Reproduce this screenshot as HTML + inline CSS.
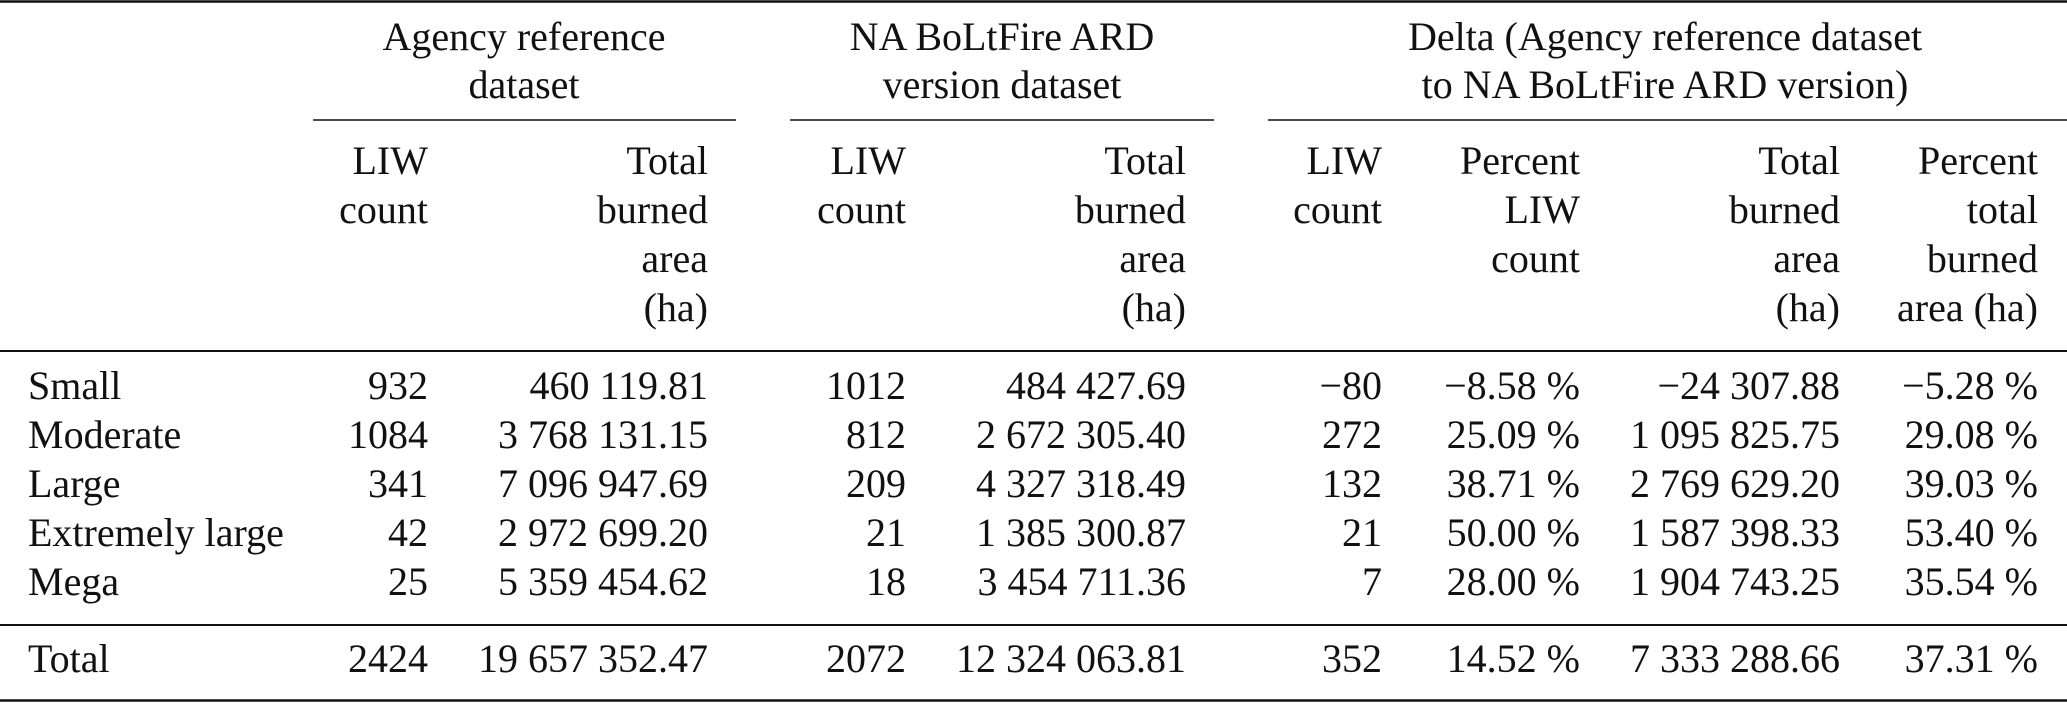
<!DOCTYPE html>
<html><head><meta charset="utf-8"><style>
html,body{margin:0;padding:0;background:#fff;}
svg{display:block;}
text{font-family:"Liberation Serif",serif;font-size:40px;fill:#111;}
</style></head><body>
<svg width="2067" height="703" xmlns="http://www.w3.org/2000/svg">
<g stroke="#111">
<line x1="0" y1="1.5" x2="2067" y2="1.5" stroke-width="2.5"/>
<line x1="313" y1="120" x2="736" y2="120" stroke-width="1.6"/>
<line x1="790" y1="120" x2="1214" y2="120" stroke-width="1.6"/>
<line x1="1268" y1="120" x2="2067" y2="120" stroke-width="1.6"/>
<line x1="0" y1="351" x2="2067" y2="351" stroke-width="2"/>
<line x1="0" y1="625" x2="2067" y2="625" stroke-width="2"/>
<line x1="0" y1="700.5" x2="2067" y2="700.5" stroke-width="2.5"/>
</g>
<g text-anchor="middle">
<text x="524" y="50">Agency reference</text>
<text x="524" y="98">dataset</text>
<text x="1002" y="50">NA BoLtFire ARD</text>
<text x="1002" y="98">version dataset</text>
<text x="1665" y="50">Delta (Agency reference dataset</text>
<text x="1665" y="98">to NA BoLtFire ARD version)</text>
</g>
<g text-anchor="end">
<text x="428" y="174">LIW</text><text x="428" y="223">count</text>
<text x="708" y="174">Total</text><text x="708" y="223">burned</text><text x="708" y="272">area</text><text x="708" y="321">(ha)</text>
<text x="906" y="174">LIW</text><text x="906" y="223">count</text>
<text x="1186" y="174">Total</text><text x="1186" y="223">burned</text><text x="1186" y="272">area</text><text x="1186" y="321">(ha)</text>
<text x="1382" y="174">LIW</text><text x="1382" y="223">count</text>
<text x="1580" y="174">Percent</text><text x="1580" y="223">LIW</text><text x="1580" y="272">count</text>
<text x="1840" y="174">Total</text><text x="1840" y="223">burned</text><text x="1840" y="272">area</text><text x="1840" y="321">(ha)</text>
<text x="2038" y="174">Percent</text><text x="2038" y="223">total</text><text x="2038" y="272">burned</text><text x="2038" y="321">area (ha)</text>
</g>
<g>
<text x="28" y="399">Small</text>
<text x="28" y="448">Moderate</text>
<text x="28" y="497">Large</text>
<text x="28" y="546">Extremely large</text>
<text x="28" y="595">Mega</text>
<text x="28" y="672">Total</text>
</g>
<g text-anchor="end">
<text x="428" y="399">932</text><text x="708" y="399">460 119.81</text><text x="906" y="399">1012</text><text x="1186" y="399">484 427.69</text><text x="1382" y="399">−80</text><text x="1580" y="399">−8.58 %</text><text x="1840" y="399">−24 307.88</text><text x="2038" y="399">−5.28 %</text>
<text x="428" y="448">1084</text><text x="708" y="448">3 768 131.15</text><text x="906" y="448">812</text><text x="1186" y="448">2 672 305.40</text><text x="1382" y="448">272</text><text x="1580" y="448">25.09 %</text><text x="1840" y="448">1 095 825.75</text><text x="2038" y="448">29.08 %</text>
<text x="428" y="497">341</text><text x="708" y="497">7 096 947.69</text><text x="906" y="497">209</text><text x="1186" y="497">4 327 318.49</text><text x="1382" y="497">132</text><text x="1580" y="497">38.71 %</text><text x="1840" y="497">2 769 629.20</text><text x="2038" y="497">39.03 %</text>
<text x="428" y="546">42</text><text x="708" y="546">2 972 699.20</text><text x="906" y="546">21</text><text x="1186" y="546">1 385 300.87</text><text x="1382" y="546">21</text><text x="1580" y="546">50.00 %</text><text x="1840" y="546">1 587 398.33</text><text x="2038" y="546">53.40 %</text>
<text x="428" y="595">25</text><text x="708" y="595">5 359 454.62</text><text x="906" y="595">18</text><text x="1186" y="595">3 454 711.36</text><text x="1382" y="595">7</text><text x="1580" y="595">28.00 %</text><text x="1840" y="595">1 904 743.25</text><text x="2038" y="595">35.54 %</text>
<text x="428" y="672">2424</text><text x="708" y="672">19 657 352.47</text><text x="906" y="672">2072</text><text x="1186" y="672">12 324 063.81</text><text x="1382" y="672">352</text><text x="1580" y="672">14.52 %</text><text x="1840" y="672">7 333 288.66</text><text x="2038" y="672">37.31 %</text>
</g>
</svg>
</body></html>
